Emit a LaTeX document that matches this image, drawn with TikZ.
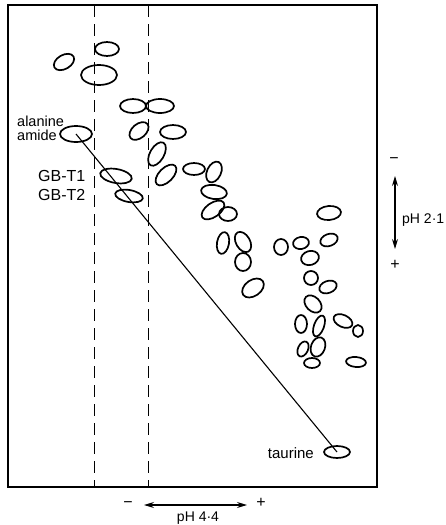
\documentclass[tikz,border=0pt]{standalone}
\usepackage{fontspec}
\setmainfont{Liberation Sans}
\usetikzlibrary{shapes.geometric,arrows.meta}

% one ninhydrin spot: name, x, y, half-width, half-height, tilt
\newcommand\gelspot[6]{%
  \node[spot, minimum width={2*#4 pt}, minimum height={2*#5 pt}, rotate=#6] (#1) at (#2,#3) {};}

\tikzset{
  spot/.style={ellipse, draw, line width=1.7pt, inner sep=0pt, outer sep=0pt},
  frame/.style={line width=1.1pt},
  guide/.style={line width=0.9pt, dash pattern=on 12pt off 7pt},
  lab/.style={font=\fontsize{14.5}{14}\selectfont, inner sep=0pt},
  gblab/.style={font=\fontsize{16}{16}\selectfont, inner sep=0pt},
  axislab/.style={font=\fontsize{14}{14}\selectfont, inner sep=0pt},
  signlab/.style={font=\fontsize{16}{16}\selectfont, inner sep=0pt},
  pharrow/.style={line width=1.1pt, {Stealth[length=10pt,width=6pt]}-{Stealth[length=10pt,width=6pt]}},
}

\begin{document}
\begin{tikzpicture}[x=1pt, y=-1pt]
\useasboundingbox (0,0) rectangle (445,525);

% paper outline and the two dashed guide lines
\coordinate (fa) at (8,5);
\coordinate (fb) at (377,487);
\draw[frame] (fa) rectangle (fb);
\coordinate (g1t) at (94,5);
\coordinate (g1b) at (94,487);
\coordinate (g2t) at (148,5);
\coordinate (g2b) at (148,487);
\draw[guide] (g1t) -- (g1b);
\draw[guide] (g2t) -- (g2b);

% spots
\gelspot{s1}{107}{49}{12}{7}{0}
\gelspot{s2}{64}{62}{11}{7}{30}
\gelspot{s3}{99}{75}{18}{10}{0}
\gelspot{s4}{133}{106}{13}{7}{0}
\gelspot{s5}{160}{106}{14}{7}{0}
\gelspot{ala}{76}{134}{16}{8}{0}
\gelspot{s7}{139}{131}{11}{7}{40}
\gelspot{s8}{173}{132}{13}{7}{0}
\gelspot{s9}{157}{154}{13}{7}{60}
\gelspot{gb1}{116}{176}{16}{7}{-10}
\gelspot{gb2}{129}{196}{14}{6}{-10}
\gelspot{s12}{166}{175}{13}{7}{45}
\gelspot{s13}{194}{169}{11}{6}{0}
\gelspot{s14}{214}{172}{11}{7}{65}
\gelspot{s15}{214}{192}{13}{7}{-8}
\gelspot{s16}{213}{210}{13}{7}{35}
\gelspot{s17}{228}{214}{9}{7}{0}
\gelspot{s18}{223}{243}{11}{6}{80}
\gelspot{s19}{243}{242}{11}{7}{-60}
\gelspot{s20}{243}{262}{8}{9}{0}
\gelspot{s21}{253}{288}{12}{8}{35}
\gelspot{s22}{329}{213}{12}{7}{5}
\gelspot{s23}{281}{247}{7}{8}{0}
\gelspot{s24}{301}{243}{8}{6}{10}
\gelspot{s25}{329}{240}{9}{6}{20}
\gelspot{s26}{310}{258}{9}{7}{15}
\gelspot{s27}{311}{278}{7}{7}{0}
\gelspot{s28}{328}{287}{9}{6}{20}
\gelspot{s29}{313}{304}{10}{7}{-45}
\gelspot{s30}{301}{324}{6}{9}{0}
\gelspot{s31}{319}{326}{11}{5}{70}
\gelspot{s32}{343}{321}{10}{6}{-25}
\gelspot{s33}{358}{331}{5}{6}{0}
\gelspot{s34}{303}{349}{8}{5}{65}
\gelspot{s35}{318}{347}{10}{7}{70}
\gelspot{s36}{312}{363}{8}{5}{0}
\gelspot{s37}{356}{362}{10}{5}{-5}
\gelspot{tau}{337}{452}{13}{6}{0}

% mobility line
\draw[line width=1.1pt] (ala.center) -- (tau.center);

% spot labels
\node[lab, anchor=west, align=left] (alalab) at (17,128) {alanine\\amide};
\node[gblab, anchor=west] (gb1lab) at (38,176) {GB-T1};
\node[gblab, anchor=west] (gb2lab) at (38,195) {GB-T2};
\node[lab, font=\fontsize{15}{15}\selectfont, anchor=east] (taulab) at (314,453) {taurine};

% first dimension, pH 2.1
\coordinate (v1) at (395,176);
\coordinate (v2) at (395,249);
\draw[pharrow] (v1) -- (v2);
\node[signlab] (vminus) at (394,161) {−};
\node[signlab] (vplus) at (395,265) {+};
\node[axislab, anchor=west] (vlab) at (402,220) {pH 2·1};

% second dimension, pH 4.4
\coordinate (h1) at (144,505);
\coordinate (h2) at (247,505);
\draw[pharrow] (h1) -- (h2);
\node[signlab] (hminus) at (128,505) {−};
\node[signlab] (hplus) at (261,503) {+};
\node[axislab] (hlab) at (198,518) {pH 4·4};
\end{tikzpicture}
\end{document}
